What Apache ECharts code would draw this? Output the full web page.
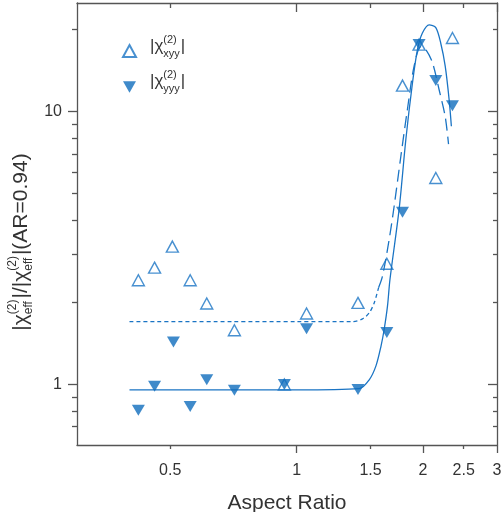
<!DOCTYPE html>
<html>
<head>
<meta charset="utf-8">
<script src="https://cdn.jsdelivr.net/npm/echarts@6/dist/echarts.min.js"></script>
<style>
html,body{margin:0;padding:0;background:#fff;}
#chart{width:502px;height:512px;}
</style>
</head>
<body>
<div id="chart"></div>
<script>
// ---- data ----
const xyyAR  = [0.42, 0.459, 0.506, 0.558, 0.611, 0.711, 0.935, 1.056, 1.40, 1.64, 1.787, 1.957, 2.145, 2.35];
const xyyVal = [2.41, 2.68, 3.2, 2.41, 1.98, 1.58, 1.0, 1.82, 1.99, 2.77, 12.45, 17.6, 5.71, 18.6];
const yyyAR  = [0.42, 0.459, 0.509, 0.558, 0.611, 0.711, 0.935, 1.056, 1.40, 1.64, 1.787, 1.957, 2.145, 2.35];
const yyyVal = [0.805, 0.986, 1.43, 0.83, 1.04, 0.953, 1.0, 1.60, 0.959, 1.55, 4.28, 17.6, 13.0, 10.5];

// fitted curves
const yyyFitAR  = [0.40, 0.7, 1.0, 1.41, 1.489, 1.545, 1.588, 1.616, 1.646, 1.668, 1.754, 1.82, 1.887, 1.94, 1.993, 2.068, 2.145, 2.204, 2.258, 2.307, 2.336];
const yyyFitVal = [0.955, 0.955, 0.955, 0.965, 1.04, 1.17, 1.38, 1.59, 1.94, 2.42, 4.38, 7.9, 12.7, 16.9, 19.4, 20.8, 20.3, 17.8, 14.7, 11.1, 8.84];
const xyyFitFlatAR  = [0.40, 0.7, 1.0, 1.359, 1.435, 1.489, 1.53, 1.567];
const xyyFitFlatVal = [1.70, 1.70, 1.70, 1.70, 1.74, 1.83, 1.99, 2.26];
const xyyFitPeakAR  = [1.567, 1.601, 1.661, 1.707, 1.771, 1.836, 1.905, 1.976, 2.03, 2.106, 2.185, 2.258, 2.30];
const xyyFitPeakVal = [2.26, 2.49, 3.40, 4.5, 6.86, 10.2, 14.7, 17.3, 16.9, 15.1, 12.0, 9.6, 7.6];

// axis ticks / labels
const xLabels = [0.5, 1, 1.5, 2, 2.5, 3];
const xMajorTicks = [1, 2, 3];
const xMinorTicks = [0.5, 1.5, 2.5];
const yLabels = [1, 10];
const yMajorTicks = [1, 10];
const yMinorTicks = [0.7, 0.8, 0.9, 2, 3, 4, 5, 6, 7, 8, 9, 20];

// ---- styling ----
const BLUE = '#1a74c4';
const AXIS = '#555';
const TEXT = '#333';
const FONT = '"Liberation Sans", Arial, sans-serif';
const downTri = 'path://M0,0L20,0L10,18Z';

const pairs = (a, b) => a.map((x, i) => [x, b[i]]);

const chart = echarts.init(document.getElementById('chart'), null, {renderer: 'canvas'});

function xAx(pos, showLine, ticks, len, inside, labels) {
  return {
    type: 'log', logBase: 10, min: 0.3, max: 3, position: pos,
    axisLine: {show: showLine, lineStyle: {color: AXIS, width: 1.3}},
    axisTick: {show: true, customValues: ticks, length: len, inside: inside, lineStyle: {color: AXIS, width: 1.3}},
    axisLabel: labels ? {show: true, customValues: labels, margin: 18, color: TEXT, fontSize: 16, fontFamily: FONT, formatter: v => String(+v.toFixed(2))} : {show: false},
    splitLine: {show: false}, minorTick: {show: false}
  };
}
function yAx(pos, showLine, ticks, len, inside, labels) {
  return {
    type: 'log', logBase: 10, min: 0.6, max: 25, position: pos,
    axisLine: {show: showLine, lineStyle: {color: AXIS, width: 1.3}},
    axisTick: {show: true, customValues: ticks, length: len, inside: inside, lineStyle: {color: AXIS, width: 1.3}},
    axisLabel: labels ? {show: true, customValues: labels, margin: 15, color: TEXT, fontSize: 16, fontFamily: FONT, formatter: v => String(+v.toFixed(2))} : {show: false},
    splitLine: {show: false}, minorTick: {show: false}
  };
}

const xAxes = [
  Object.assign(xAx('bottom', true, xMajorTicks, 8, false, xLabels), {
    name: 'Aspect Ratio', nameLocation: 'middle', nameGap: 48,
    nameTextStyle: {color: TEXT, fontSize: 21, fontFamily: FONT}
  }),
  xAx('bottom', false, xMinorTicks, 4, false, null),
  xAx('top', true, xMajorTicks, 9, true, null),
  xAx('top', false, xMinorTicks, 5, true, null)
];
const yAxes = [
  yAx('left', true, yMajorTicks, 9, false, yLabels),
  yAx('left', false, yMinorTicks, 5, false, null),
  yAx('right', true, yMajorTicks, 9, true, null),
  yAx('right', false, yMinorTicks, 4, true, null)
];

// ---- stacked super/subscript text helper (graphic text) ----
const mctx = document.createElement('canvas').getContext('2d');
function tw(t, size) { mctx.font = size + 'px ' + FONT; return mctx.measureText(t).width; }
function stackedText(pieces, big, small, supDy, subDy) {
  const out = []; let x = 0;
  pieces.forEach(p => {
    if (p.t !== undefined) {
      out.push({type: 'text', x: x, y: 0, style: {text: p.t, font: big + 'px ' + FONT, fill: TEXT, align: 'left', verticalAlign: 'middle', textAlign: 'left', textVerticalAlign: 'middle'}});
      x += tw(p.t, big);
    } else {
      out.push({type: 'text', x: x, y: supDy, style: {text: p.sup, font: small + 'px ' + FONT, fill: TEXT, align: 'left', verticalAlign: 'middle', textAlign: 'left', textVerticalAlign: 'middle'}});
      out.push({type: 'text', x: x, y: subDy, style: {text: p.sub, font: small + 'px ' + FONT, fill: TEXT, align: 'left', verticalAlign: 'middle', textAlign: 'left', textVerticalAlign: 'middle'}});
      x += Math.max(tw(p.sup, small), tw(p.sub, small)) + 1;
    }
  });
  return {children: out, width: x};
}

const yTitle = stackedText([{t: '|χ'}, {sup: '(2)', sub: 'eff'}, {t: '|/|χ'}, {sup: '(2)', sub: 'eff'}, {t: '|(AR=0.94)'}], 21, 12, -8, 8);
const leg1 = stackedText([{t: '|χ'}, {sup: '(2)', sub: 'xyy'}, {t: '|'}], 17, 11, -6, 8);
const leg2 = stackedText([{t: '|χ'}, {sup: '(2)', sub: 'yyy'}, {t: '|'}], 17, 11, -6, 8);

const option = {
  animation: false,
  backgroundColor: '#fff',
  grid: {left: 77, right: 5, top: 3, bottom: 67, containLabel: false, outerBoundsMode: 'none'},
  xAxis: xAxes,
  yAxis: yAxes,
  legend: {
    data: [{name: 'xyy', icon: 'triangle'}, {name: 'yyy', icon: downTri}],
    orient: 'vertical', left: 117, top: 39, itemWidth: 13, itemHeight: 12, itemGap: 23,
    formatter: () => '', selectedMode: false
  },
  graphic: [
    {type: 'group', x: 21, y: 242 + yTitle.width / 2, rotation: Math.PI / 2, children: yTitle.children},
    {type: 'group', x: 150, y: 46, children: leg1.children},
    {type: 'group', x: 150, y: 81, children: leg2.children}
  ],
  series: [
    {type: 'line', name: 'fitYYY', data: pairs(yyyFitAR, yyyFitVal), showSymbol: false, smooth: 0.3, silent: true,
     lineStyle: {color: BLUE, width: 1.3}},
    {type: 'line', name: 'fitXYYflat', data: pairs(xyyFitFlatAR, xyyFitFlatVal), showSymbol: false, smooth: 0.3, silent: true,
     lineStyle: {color: BLUE, width: 1.3, type: [4, 3]}},
    {type: 'line', name: 'fitXYYpeak', data: pairs(xyyFitPeakAR, xyyFitPeakVal), showSymbol: false, smooth: 0.3, silent: true,
     lineStyle: {color: BLUE, width: 1.3, type: [12, 6]}},
    {type: 'scatter', name: 'xyy', data: pairs(xyyAR, xyyVal), symbol: 'triangle', symbolSize: [12, 11],
     itemStyle: {color: 'rgba(255,255,255,0)', borderColor: BLUE, borderWidth: 1.4}, z: 3},
    {type: 'scatter', name: 'yyy', data: pairs(yyyAR, yyyVal), symbol: downTri, symbolSize: [13, 11],
     itemStyle: {color: '#0f6dbd'}, z: 4}
  ]
};
chart.setOption(option);
</script>
</body>
</html>
